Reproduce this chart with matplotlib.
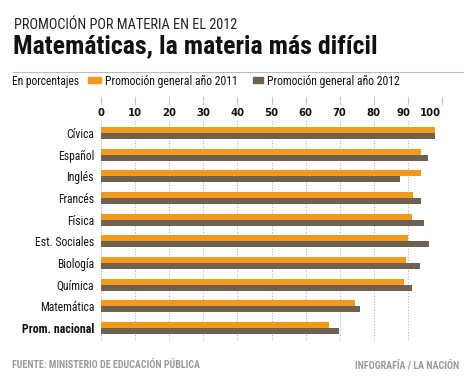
import matplotlib
matplotlib.use("Agg")
import matplotlib.pyplot as plt
from matplotlib.patches import Rectangle
from matplotlib.lines import Line2D
import matplotlib.transforms as mtransforms
from matplotlib import font_manager

categories = ["Cívica", "Español", "Inglés", "Francés", "Física", "Est. Sociales",
              "Biología", "Química", "Matemática", "Prom. nacional"]
values_2011 = [97.9, 93.8, 93.8, 91.6, 91.2, 90.1, 89.5, 89.0, 74.5, 67.0]
values_2012 = [98.0, 95.9, 87.8, 93.7, 94.6, 96.2, 93.6, 91.3, 76.0, 69.9]
ticks = [0, 10, 20, 30, 40, 50, 60, 70, 80, 90, 100]
series_labels = ["Promoción general año 2011", "Promoción general año 2012"]

names = {f.name for f in font_manager.fontManager.ttflist}
fam = ["Liberation Sans", "DejaVu Sans"]
for cand in ["Roboto Condensed", "Liberation Sans Narrow", "Open Sans Condensed"]:
    if cand in names:
        fam = [cand] + fam
        break
plt.rcParams['font.family'] = fam

ORANGE = "#F39A1E"
DARK = "#6E6151"
GRAY = "#9a9a9a"

W, H = 469, 378
fig = plt.figure(figsize=(W / 100, H / 100), dpi=100)
renderer = fig.canvas.get_renderer()


def fx(x):
    return x / W


def fy(y):
    return 1 - y / H


def fit(t, width_px):
    """Scale the font size of text t so that it spans width_px pixels."""
    w = t.get_window_extent(renderer).width
    if w > 0:
        t.set_fontsize(t.get_fontsize() * width_px / w)
    return t


ax = fig.add_axes([fx(101), fy(341), fx(442) - fx(101), fy(120) - fy(341)])

n = len(categories)
pos = list(range(n))
h = 0.28
ax.barh([p - h / 2 for p in pos], values_2011, height=h, color=ORANGE, zorder=3)
ax.barh([p + h / 2 for p in pos], values_2012, height=h, color=DARK, zorder=3)

ax.set_xlim(0, 100)
ax.set_ylim(n - 0.4, -0.6)
ax.set_yticks(pos)
ax.set_yticklabels(categories, fontsize=9.5, color="#111111")
ax.tick_params(axis="y", length=0, pad=5)

ax.xaxis.tick_top()
ax.set_xticks(ticks)
ax.set_xticklabels([str(t) for t in ticks], fontsize=7.3, fontweight="heavy",
                   family="DejaVu Sans", color="#111111")
ax.tick_params(axis="x", length=0, pad=1.2)

for t in ticks:
    ax.axvline(t, color="#b5b5b5", lw=0.8, ls=(0, (1, 1.5)), zorder=1)

trans = mtransforms.blended_transform_factory(ax.transData, fig.transFigure)
for t in ticks:
    ax.add_line(Line2D([t, t], [fy(97), fy(104)], transform=trans, color="#c8c8c8",
                       lw=0.8, clip_on=False))

for s in ax.spines.values():
    s.set_visible(False)

fig.canvas.draw()
for lbl in ax.get_yticklabels():
    if lbl.get_text() == "Prom. nacional":
        lbl.set_fontweight("bold")
        fit(lbl, 73)
    else:
        lbl.set_fontsize(9.5)
ref = [l for l in ax.get_yticklabels() if l.get_text() == "Est. Sociales"][0]
fit(ref, 59)
size_cat = ref.get_fontsize()
for lbl in ax.get_yticklabels():
    if lbl.get_text() != "Prom. nacional":
        lbl.set_fontsize(size_cat)

shift = {90: -4, 100: -12}
for t, lbl in zip(ticks, ax.get_xticklabels()):
    if t in shift:
        lbl.set_transform(lbl.get_transform() +
                          mtransforms.ScaledTranslation(shift[t] / 100, 0, fig.dpi_scale_trans))

# Titles
t1 = fig.text(fx(14), fy(25), "PROMOCIÓN POR MATERIA EN EL 2012", fontsize=9,
              va="center", ha="left", color="#222222")
fit(t1, 224)
t2 = fig.text(fx(13), fy(46), "Matemáticas, la materia más difícil", fontsize=17.5,
              fontweight="bold", va="center", ha="left", color="#111111")
fit(t2, 365)
fig.add_artist(Line2D([fx(13), fx(463)], [fy(72), fy(72)], color="#bbbbbb", lw=0.8))

# Legend
t3 = fig.text(fx(12), fy(81), "En porcentajes", fontsize=8.5, va="center", ha="left",
              color="#111111")
fit(t3, 67)
fig.add_artist(Rectangle((fx(88), fy(83)), fx(13), 6 / H, color=ORANGE,
                         transform=fig.transFigure))
t4 = fig.text(fx(105), fy(81), series_labels[0], fontsize=8.5, va="center", ha="left",
              color="#111111")
fit(t4, 132)
fig.add_artist(Rectangle((fx(253), fy(83)), fx(10), 6 / H, color=DARK,
                         transform=fig.transFigure))
t5 = fig.text(fx(267), fy(81), series_labels[1], fontsize=8.5, va="center", ha="left",
              color="#111111")
fit(t5, 132)

# Footer
t6 = fig.text(fx(12), fy(365), "FUENTE: MINISTERIO DE EDUCACIÓN PÚBLICA", fontsize=7,
              fontweight="bold", color=GRAY, va="center", ha="left")
fit(t6, 187)
t7 = fig.text(fx(459), fy(365), "INFOGRAFÍA / LA NACIÓN", fontsize=7,
              fontweight="bold", color=GRAY, va="center", ha="right")
fit(t7, 104)

fig.savefig("out.png", dpi=100, facecolor="white")
